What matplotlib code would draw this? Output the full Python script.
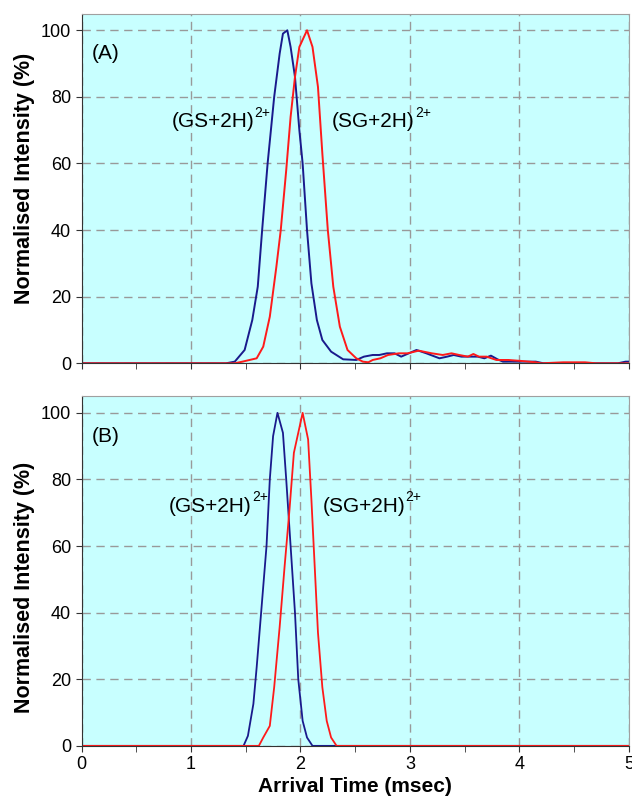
import matplotlib
matplotlib.use("Agg")
import matplotlib.pyplot as plt
from matplotlib.ticker import MultipleLocator

plt.rcParams['font.family'] = ['Liberation Sans', 'DejaVu Sans']

# Panel A data
a_gs_x = [0.0, 1.32, 1.40, 1.49, 1.56, 1.61, 1.65, 1.70, 1.76, 1.81, 1.84, 1.88, 1.91, 1.95, 1.99,
          2.02, 2.06, 2.10, 2.15, 2.20, 2.28, 2.39, 2.51, 2.58, 2.66, 2.72, 2.79, 2.86, 2.92, 2.99,
          3.06, 3.15, 3.27, 3.34, 3.40, 3.47, 3.53, 3.62, 3.68, 3.74, 3.80, 3.85, 4.00, 4.15, 4.22,
          4.90, 4.97, 5.0]
a_gs_y = [0.0, 0.0, 0.5, 4, 13, 23, 40, 60, 80, 93, 99, 100, 95, 86, 70,
          60, 40, 24, 13, 7, 3.5, 1.2, 1, 2, 2.5, 2.5, 3, 3, 2, 3,
          4, 3, 1.5, 2, 2.5, 2, 2, 2, 1.5, 2.3, 1.2, 0.5, 0.5, 0.5, 0.0,
          0.0, 0.5, 0.5]
a_sg_x = [0.0, 1.40, 1.47, 1.60, 1.66, 1.72, 1.78, 1.82, 1.87, 1.91, 1.95, 1.99, 2.06, 2.11, 2.16,
          2.20, 2.25, 2.30, 2.36, 2.43, 2.51, 2.57, 2.62, 2.66, 2.73, 2.80, 2.90, 2.98, 3.08, 3.20,
          3.30, 3.38, 3.45, 3.53, 3.58, 3.63, 3.70, 3.79, 3.90, 4.02, 4.15, 4.20, 4.40, 4.60, 4.70, 5.0]
a_sg_y = [0.0, 0.0, 0.5, 1.5, 5, 14, 29, 40, 58, 74, 86, 95, 100, 95, 83,
          63, 40, 23, 11, 4, 1.5, 0.5, 0.3, 1, 1.5, 2.5, 3, 3, 3.8, 3,
          2.5, 3, 2.5, 2, 2.8, 2, 2, 1, 1, 0.7, 0.3, 0.0, 0.3, 0.3, 0.0, 0.0]

# Panel B data
b_gs_x = [0.0, 1.48, 1.52, 1.57, 1.60, 1.64, 1.69, 1.72, 1.75, 1.79, 1.84, 1.87, 1.91, 1.95, 1.98,
          2.02, 2.06, 2.11, 5.0]
b_gs_y = [0.0, 0.0, 3, 12.6, 23.6, 39.7, 60, 80, 93, 100, 94, 80, 60, 40, 20,
          7.5, 2.5, 0.0, 0.0]
b_sg_x = [0.0, 1.62, 1.66, 1.72, 1.76, 1.81, 1.855, 1.90, 1.94, 1.98, 2.02, 2.07, 2.10, 2.13, 2.16,
          2.20, 2.24, 2.28, 2.33, 5.0]
b_sg_y = [0.0, 0.0, 2.5, 6, 17.6, 35.7, 53.8, 71, 88, 94, 100, 92, 74, 54, 34,
          17.6, 7.5, 2.5, 0.0, 0.0]

gs_label = "(GS+2H)"
sg_label = "(SG+2H)"
charge = "2+"
x_ticks = [0, 1, 2, 3, 4, 5]
y_ticks = [0, 20, 40, 60, 80, 100]

BLUE = "#1a1a8c"
RED = "#ff1a1a"
BG = "#c8ffff"

fig = plt.figure(figsize=(6.32, 8.02), dpi=100)
axA = fig.add_axes([0.129, 0.547, 0.866, 0.436])
axB = fig.add_axes([0.129, 0.070, 0.866, 0.436])

def style(ax, show_xlabels, label_y):
    ax.set_facecolor(BG)
    ax.set_xlim(0, 5)
    ax.set_ylim(0, 105)
    ax.set_xticks(x_ticks)
    ax.xaxis.set_minor_locator(MultipleLocator(0.5))
    ax.set_yticks(y_ticks)
    ax.grid(True, which='major', linestyle=(0, (6, 4)), color='#999999', linewidth=1.0)
    ax.set_axisbelow(True)
    for s in ['top', 'right']:
        ax.spines[s].set_color('#a0a0a0')
    for s in ['left', 'bottom']:
        ax.spines[s].set_color('#333333')
    ax.tick_params(axis='both', direction='out', length=4, labelsize=13, color='#333333')
    ax.tick_params(axis='x', which='minor', direction='out', length=4, color='#333333')
    if not show_xlabels:
        ax.tick_params(axis='x', labelbottom=False)
    ax.set_ylabel("Normalised Intensity (%)", fontsize=15.5, fontweight='bold')
    ax.yaxis.set_label_coords(-0.085, label_y)

style(axA, False, 0.529)
style(axB, True, 0.454)

axA.plot(a_gs_x, a_gs_y, color=BLUE, linewidth=1.4)
axA.plot(a_sg_x, a_sg_y, color=RED, linewidth=1.4)
axB.plot(b_gs_x, b_gs_y, color=BLUE, linewidth=1.3)
axB.plot(b_sg_x, b_sg_y, color=RED, linewidth=1.3)

def ion_label(ax, x, y, base):
    t = ax.text(x, y, base, fontsize=15, va='center')
    ax.annotate(charge, xy=(1.0, 0.62), xycoords=t, fontsize=10, va='bottom', ha='left')

axA.text(0.09, 93, "(A)", fontsize=15, va='center')
axB.text(0.09, 93, "(B)", fontsize=15, va='center')
ion_label(axA, 0.82, 72.5, gs_label)
ion_label(axA, 2.29, 72.5, sg_label)
ion_label(axB, 0.80, 72, gs_label)
ion_label(axB, 2.20, 72, sg_label)

axB.set_xlabel("Arrival Time (msec)", fontsize=15, fontweight='bold', labelpad=3)

fig.savefig("out.png", dpi=100)
